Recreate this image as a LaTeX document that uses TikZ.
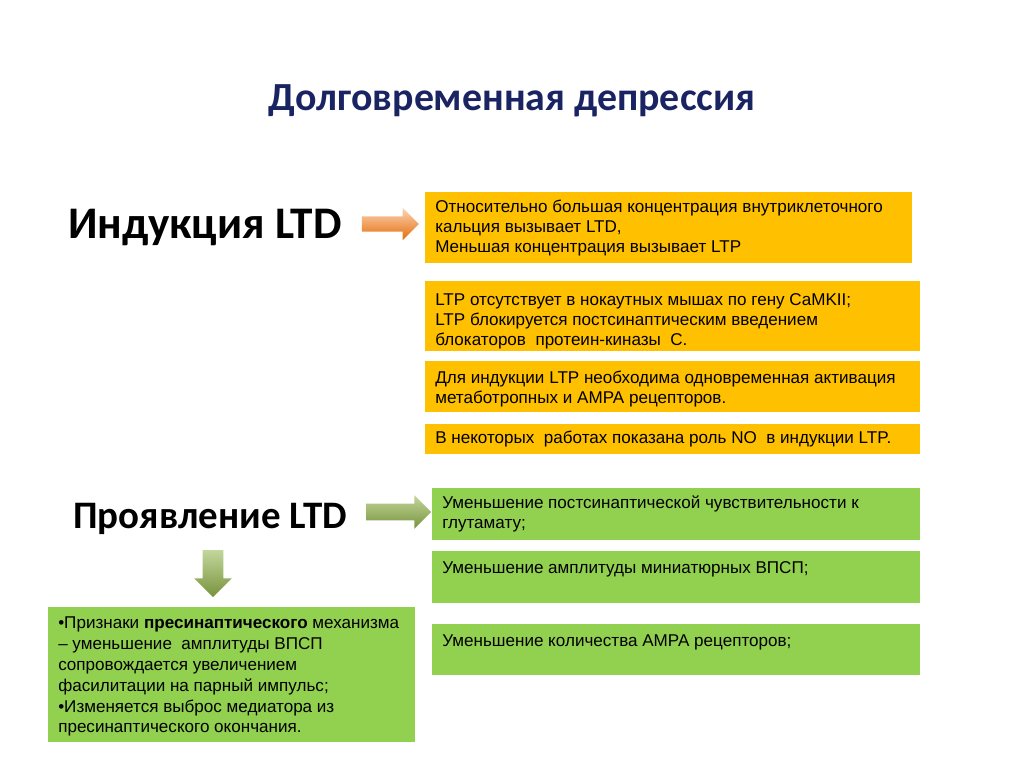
\documentclass[tikz,border=0pt]{standalone}
\usepackage{fontspec}
\setmainfont{Liberation Sans}
\newfontfamily\headfont{Carlito}
\usetikzlibrary{shapes.arrows}

\newdimen\pxu \pxu=0.75pt
\definecolor{boxorange}{HTML}{FFC000}
\definecolor{boxgreen}{HTML}{92D050}
\definecolor{titleblue}{HTML}{1A2462}
\definecolor{orangelight}{HTML}{FCD5B5}
\definecolor{orangedark}{HTML}{E46C0A}
\definecolor{greenlight}{HTML}{C3D69B}
\definecolor{greendark}{HTML}{77933C}

% text of a box: width, height, top padding (in px), text
\newcommand\boxtext[4]{\parbox[t][#2\pxu][t]{#1\pxu}{\raggedright\vspace*{#3\pxu}\strut #4}}

\tikzset{
  heading/.style={font=\headfont\bfseries\fontsize{29.2}{36}\selectfont, anchor=base west, inner sep=0pt},
  obox/.style={fill=boxorange, anchor=north west, inner xsep=7.5pt, inner ysep=0pt,
    font=\fontsize{12.8}{15}\selectfont},
  gbox/.style={obox, fill=boxgreen},
  blockarrow/.style={single arrow, inner xsep=0pt, single arrow head extend=6.4pt},
}

\begin{document}
\begin{tikzpicture}[x=0.75pt,y=-0.75pt]
  \useasboundingbox (0,0) rectangle (1024,768);
  \node[font=\headfont\bfseries\fontsize{29.9}{36}\selectfont, text=titleblue, anchor=base]
    (title) at (512,110) {Долговременная депрессия};

  % induction
  \node[heading, font=\headfont\bfseries\fontsize{33.9}{40}\selectfont] (induct) at (68,238) {Индукция LTD};
  \node[blockarrow, minimum height=42.75pt, inner ysep=5.6pt,
    top color=orangelight, bottom color=orangedark] (arrind) at (386.5,224) {};
  \node[obox] (ind1) at (425,192) {\boxtext{467}{71}{6}{Относительно большая концентрация внутриклеточного\\
    кальция вызывает LTD,\\ Меньшая концентрация вызывает LTP}};
  \node[obox] (ind2) at (425,281) {\boxtext{475}{70}{10}{LTP отсутствует в нокаутных мышах по гену CaMKII;\\
    LTP блокируется постсинаптическим введением\\ блокаторов\ \ протеин-киназы\ \ С.}};
  \node[obox] (ind3) at (425,361) {\boxtext{475}{51}{8}{Для индукции LTP необходима одновременная активация\\
    метаботропных и AMPA рецепторов.}};
  \node[obox] (ind4) at (425,424) {\boxtext{475}{30}{5}{В некоторых\ \ работах показана роль NO\ \ в индукции LTP.}};

  % manifestation
  \node[heading] (manif) at (73,528) {Проявление LTD};
  \node[blockarrow, minimum height=48.75pt, inner ysep=6pt,
    top color=greenlight, bottom color=greendark] (arrman) at (394.5,512) {};
  \node[blockarrow, minimum height=35.25pt, inner ysep=7.5pt, rotate=-90,
    top color=greenlight, bottom color=greendark] (arrdown) at (213,568.5) {};
  \node[gbox] (man1) at (432,488) {\boxtext{468}{52}{6}{Уменьшение постсинаптической чувствительности к\\ глутамату;}};
  \node[gbox] (man2) at (432,551) {\boxtext{468}{52}{8}{Уменьшение амплитуды миниатюрных ВПСП;}};
  \node[gbox] (man3) at (432,624) {\boxtext{468}{51}{8}{Уменьшение количества AMPA рецепторов;}};
  \node[gbox, font=\fontsize{12.8}{15.6}\selectfont] (pre) at (48,607) {\boxtext{347}{135}{7}{•Признаки \textbf{пресинаптического} механизма\\
    – уменьшение\ \ амплитуды ВПСП\\ сопровождается увеличением\\ фасилитации на парный импульс;\\
    •Изменяется выброс медиатора из\\ пресинаптического окончания.}};
\end{tikzpicture}
\end{document}
